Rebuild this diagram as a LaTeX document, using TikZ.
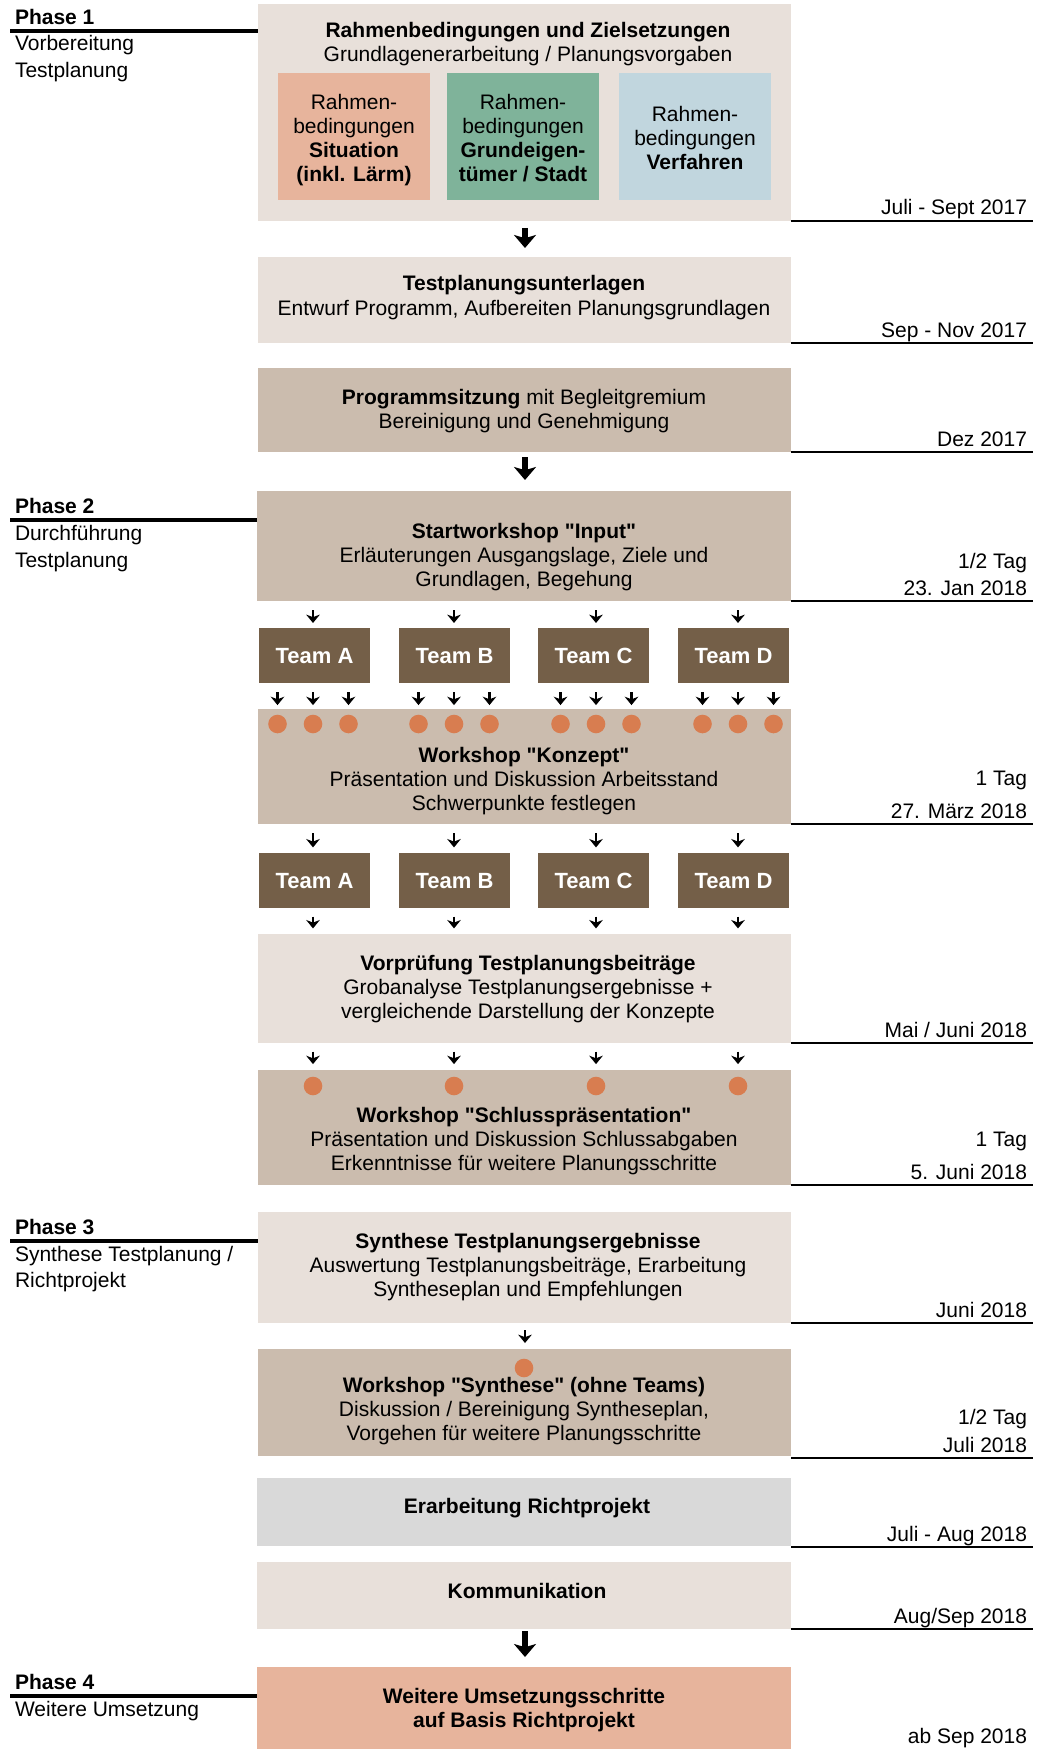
\documentclass[tikz,border=0pt]{standalone}
\usepackage{fontspec}
\setmainfont{Liberation Sans}[Ligatures=TeXOff]
\usetikzlibrary{arrows.meta,fit}
\definecolor{cLight}{HTML}{E8E0DA}
\definecolor{cMid}{HTML}{CBBCAE}
\definecolor{cTeam}{HTML}{745F48}
\definecolor{cSalmon}{HTML}{E7B49C}
\definecolor{cGreen}{HTML}{7FB39A}
\definecolor{cBlue}{HTML}{C1D6DE}
\definecolor{cGrey}{HTML}{D9D9D9}
\definecolor{cDot}{HTML}{D87D50}
\begin{document}
\begin{tikzpicture}[x=0.5pt,y=-0.5pt,
  every node/.style={font=\fontsize{10.5}{12}\selectfont, inner sep=0pt, outer sep=0pt},
  area/.style={fit={#1}, inner sep=0pt, draw=none},
  txt/.style={anchor=base},
  bt/.style={anchor=base, font=\fontsize{10.5}{12}\selectfont\bfseries},
  dte/.style={anchor=base east},
  phs/.style={anchor=base west},
  teambox/.style={fill=cTeam},
  teamtxt/.style={anchor=base, text=white, font=\fontsize{11}{12}\selectfont\bfseries},
  dot/.style={circle, fill=cDot, minimum size=9.3pt},
  sarr/.style={line width=1.45pt, -{Stealth[length=4.2pt,width=6.8pt,inset=1.3pt]}},
  barr/.style={line width=2.6pt, -{Stealth[length=6.5pt,width=11pt,inset=1.6pt]}},
  dline/.style={line width=1pt},
  pline/.style={line width=1.6pt},
]
\useasboundingbox (0,0) rectangle (1041,1749);

% ---------- boxes ----------
\node[area={(258,4)(791,221)}, fill=cLight] (B1) {};
\node[area={(278,73)(430,200)}, fill=cSalmon] (sA) {};
\node[area={(447,73)(599,200)}, fill=cGreen] (sB) {};
\node[area={(619,73)(771,200)}, fill=cBlue] (sC) {};
\node[area={(258,257)(791,343)}, fill=cLight] (B2) {};
\node[area={(258,368)(791,452)}, fill=cMid] (B3) {};
\node[area={(257,491)(791,601)}, fill=cMid] (B4) {};
\node[area={(259,628)(370,683)}, teambox] (T1A) {};
\node[area={(399,628)(510,683)}, teambox] (T1B) {};
\node[area={(538,628)(649,683)}, teambox] (T1C) {};
\node[area={(678,628)(789,683)}, teambox] (T1D) {};
\node[area={(258,709)(791,824)}, fill=cMid] (K) {};
\node[area={(259,853)(370,908)}, teambox] (T2A) {};
\node[area={(399,853)(510,908)}, teambox] (T2B) {};
\node[area={(538,853)(649,908)}, teambox] (T2C) {};
\node[area={(678,853)(789,908)}, teambox] (T2D) {};
\node[area={(258,934)(791,1043)}, fill=cLight] (V) {};
\node[area={(258,1070)(791,1185)}, fill=cMid] (S) {};
\node[area={(258,1212)(791,1323)}, fill=cLight] (Syn) {};
\node[area={(258,1349)(791,1456)}, fill=cMid] (WS) {};
\node[area={(257,1478)(791,1546)}, fill=cGrey] (E) {};
\node[area={(257,1562)(791,1629)}, fill=cLight] (Ko) {};
\node[area={(257,1667)(791,1749)}, fill=cSalmon] (W) {};

% ---------- team labels ----------
\foreach \r in {1,2}{
  \foreach \k in {A,B,C,D}{
    \node[teamtxt] (L\r\k) at ([yshift=-3.9pt]T\r\k.center) {Team \k};
  }
}

% ---------- column coordinates ----------
\coordinate (cA) at (313,0);
\coordinate (cB) at (454,0);
\coordinate (cC) at (596,0);
\coordinate (cD) at (738,0);
\coordinate (cM) at (525,0);

% ---------- dots ----------
\foreach \k/\xx in {A/313,B/454,C/596,D/738}{
  \node[dot] (d\k1) at (\xx-35.5,724) {};
  \node[dot] (d\k2) at (\xx,724) {};
  \node[dot] (d\k3) at (\xx+35.5,724) {};
  \node[dot] (s\k) at (\xx,1086) {};
}
\node[dot] (wsd) at (524,1368) {};

% ---------- texts in boxes ----------
\node[bt] (b1a) at (528,38) {Rahmenbedingungen und Zielsetzungen};
\node[txt] (b1b) at (528,61.5) {Grundlagenerarbeitung / Planungsvorgaben};
\node[txt] (sA1) at (354,110) {Rahmen-};
\node[txt] (sA2) at (354,134) {bedingungen};
\node[bt] (sA3) at (354,158) {Situation};
\node[bt] (sA4) at (354,182) {(inkl. Lärm)};
\node[txt] (sB1) at (523,110) {Rahmen-};
\node[txt] (sB2) at (523,134) {bedingungen};
\node[bt] (sB3) at (523,158) {Grundeigen-};
\node[bt] (sB4) at (523,182) {tümer / Stadt};
\node[txt] (sC1) at (695,122) {Rahmen-};
\node[txt] (sC2) at (695,146) {bedingungen};
\node[bt] (sC3) at (695,170) {Verfahren};

\node[bt] (b2a) at (524,291) {Testplanungsunterlagen};
\node[txt] (b2b) at (524,316) {Entwurf Programm, Aufbereiten Planungsgrundlagen};
\node[txt] (b3a) at (524,404) {\textbf{Programmsitzung} mit Begleitgremium};
\node[txt] (b3b) at (524,428) {Bereinigung und Genehmigung};
\node[bt] (b4a) at (524,538) {Startworkshop "Input"};
\node[txt] (b4b) at (524,562) {Erläuterungen Ausgangslage, Ziele und};
\node[txt] (b4c) at (524,586) {Grundlagen, Begehung};
\node[bt] (ka) at (524,762) {Workshop "Konzept"};
\node[txt] (kb) at (524,786) {Präsentation und Diskussion Arbeitsstand};
\node[txt] (kc) at (524,810) {Schwerpunkte festlegen};
\node[bt] (va) at (528,970.5) {Vorprüfung Testplanungsbeiträge};
\node[txt] (vb) at (528,994.5) {Grobanalyse Testplanungsergebnisse +};
\node[txt] (vc) at (528,1018.5) {vergleichende Darstellung der Konzepte};
\node[bt] (sa) at (524,1122) {Workshop "Schlusspräsentation"};
\node[txt] (sb) at (524,1146) {Präsentation und Diskussion Schlussabgaben};
\node[txt] (sc) at (524,1170) {Erkenntnisse für weitere Planungsschritte};
\node[bt] (ya) at (528,1248) {Synthese Testplanungsergebnisse};
\node[txt] (yb) at (528,1272) {Auswertung Testplanungsbeiträge, Erarbeitung};
\node[txt] (yc) at (528,1296) {Syntheseplan und Empfehlungen};
\node[bt] (wa) at (524,1392) {Workshop "Synthese" (ohne Teams)};
\node[txt] (wb) at (524,1416) {Diskussion / Bereinigung Syntheseplan,};
\node[txt] (wc) at (524,1440) {Vorgehen für weitere Planungsschritte};
\node[bt] (ea) at (527,1513) {Erarbeitung Richtprojekt};
\node[bt] (koa) at (527,1598) {Kommunikation};
\node[bt] (wea) at (524,1703) {Weitere Umsetzungsschritte};
\node[bt] (web) at (524,1727) {auf Basis Richtprojekt};

% ---------- arrows ----------
\draw[barr, shorten <=3.5pt, shorten >=4.5pt] (B1.south -| cM) -- (B2.north -| cM);
\draw[barr, shorten <=2.5pt, shorten >=5.5pt] (B3.south -| cM) -- (B4.north -| cM);
\draw[barr, shorten <=1pt, shorten >=5pt] (Ko.south -| cM) -- (W.north -| cM);
\foreach \colname/\teamname in {cA/A,cB/B,cC/C,cD/D}{
  \draw[sarr, shorten <=4.5pt, shorten >=2.5pt] (B4.south -| \colname) -- (T1\teamname.north -| \colname);
  \draw[sarr, shorten <=4.5pt, shorten >=4.8pt] (T1\teamname.south -| d\teamname1) -- (d\teamname1.north);
  \draw[sarr, shorten <=4.5pt, shorten >=4.8pt] (T1\teamname.south -| d\teamname2) -- (d\teamname2.north);
  \draw[sarr, shorten <=4.5pt, shorten >=4.8pt] (T1\teamname.south -| d\teamname3) -- (d\teamname3.north);
  \draw[sarr, shorten <=4.6pt, shorten >=2.8pt] (K.south -| \colname) -- (T2\teamname.north -| \colname);
  \draw[sarr, shorten <=4.3pt, shorten >=2.8pt] (T2\teamname.south -| \colname) -- (V.north -| \colname);
  \draw[sarr, shorten <=4.3pt, shorten >=6.3pt] (V.south -| s\teamname) -- (s\teamname.north);
}
\draw[sarr, shorten <=3.5pt, shorten >=3pt] (Syn.south -| cM) -- (WS.north -| cM);

% ---------- phase labels ----------
\coordinate (pl1) at (10,31);
\coordinate (pl2) at (10,520);
\coordinate (pl3) at (10,1241);
\coordinate (pl4) at (10,1696);
\draw[pline] (pl1) -- (pl1 -| B1.west);
\draw[pline] (pl2) -- (pl2 -| B4.west);
\draw[pline] (pl3) -- (pl3 -| Syn.west);
\draw[pline] (pl4) -- (pl4 -| W.west);
\node[phs,font=\fontsize{10.5}{12}\selectfont\bfseries] (ph1) at (15,24.5) {Phase 1};
\node[phs] (pa1) at (15,51) {Vorbereitung};
\node[phs] (pb1) at (15,78) {Testplanung};
\node[phs,font=\fontsize{10.5}{12}\selectfont\bfseries] (ph2) at (15,513.5) {Phase 2};
\node[phs] (pa2) at (15,540) {Durchführung};
\node[phs] (pb2) at (15,567) {Testplanung};
\node[phs,font=\fontsize{10.5}{12}\selectfont\bfseries] (ph3) at (15,1234.5) {Phase 3};
\node[phs] (pa3) at (15,1261) {Synthese Testplanung /};
\node[phs] (pb3) at (15,1287) {Richtprojekt};
\node[phs,font=\fontsize{10.5}{12}\selectfont\bfseries] (ph4) at (15,1689.5) {Phase 4};
\node[phs] (pa4) at (15,1716) {Weitere Umsetzung};

% ---------- date lines ----------
\foreach \yy in {221,343,452,601,824,1043,1185,1323,1458,1547,1629}{
  \draw[dline] (791,\yy) -- (1033,\yy);
}
\node[dte] (d01) at (1027,215) {Juli - Sept 2017};
\node[dte] (d02) at (1027,337) {Sep - Nov 2017};
\node[dte] (d03) at (1027,446) {Dez 2017};
\node[dte] (d04) at (1027,568) {1/2 Tag};
\node[dte] (d05) at (1027,595) {23. Jan 2018};
\node[dte] (d06) at (1027,785) {1 Tag};
\node[dte] (d07) at (1027,818) {27. März 2018};
\node[dte] (d08) at (1027,1037) {Mai / Juni 2018};
\node[dte] (d09) at (1027,1146) {1 Tag};
\node[dte] (d10) at (1027,1179) {5. Juni 2018};
\node[dte] (d11) at (1027,1317) {Juni 2018};
\node[dte] (d12) at (1027,1424) {1/2 Tag};
\node[dte] (d13) at (1027,1452) {Juli 2018};
\node[dte] (d14) at (1027,1541) {Juli - Aug 2018};
\node[dte] (d15) at (1027,1623) {Aug/Sep 2018};
\node[dte] (d16) at (1027,1743) {ab Sep 2018};
\end{tikzpicture}
\end{document}
